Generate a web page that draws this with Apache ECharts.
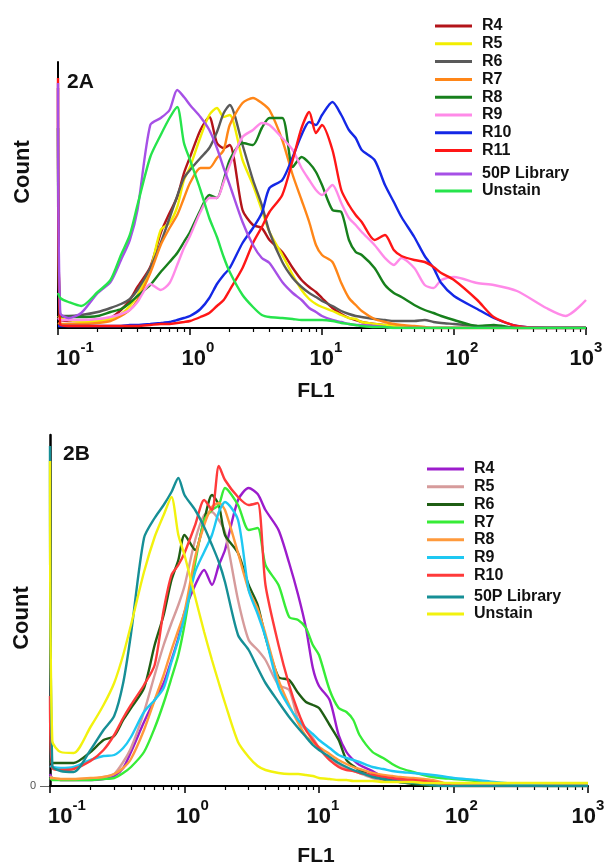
<!DOCTYPE html>
<html>
<head>
<meta charset="utf-8">
<title>FL1 histograms 2A / 2B</title>
<script src="https://cdn.jsdelivr.net/npm/echarts@6/dist/echarts.min.js"></script>
<style>
  html, body { margin: 0; padding: 0; background: #fff; }
  #chartA { position: absolute; left: 0; top: 0; width: 604px; height: 400px; }
  #chartB { position: absolute; left: 0; top: 400px; width: 604px; height: 466px; }
</style>
</head>
<body>
<div id="chartA"></div>
<div id="chartB"></div>
<script>
// FL1 channel positions shared by every histogram
const fl1 = [0.1, 0.104, 0.12, 0.15, 0.2, 0.25, 0.3, 0.35, 0.4, 0.5,
  0.6, 0.7, 0.8, 0.9, 1, 1.2, 1.4, 1.6, 1.8, 2,
  2.5, 3, 3.5, 4, 5, 6, 7, 8, 9, 10,
  12, 14, 16, 18, 20, 25, 30, 35, 40, 50,
  60, 70, 80, 100, 150, 200, 300, 500, 700, 1000];

const majorTicks = [0.1, 1, 10, 100, 1000];
const minorTicks = [0.2, 0.3, 0.4, 0.5, 0.6, 0.7, 0.8, 0.9,
  2, 3, 4, 5, 6, 7, 8, 9,
  20, 30, 40, 50, 60, 70, 80, 90,
  200, 300, 400, 500, 600, 700, 800, 900];

// ---- 2A counts ----
const namesA = ['R4', 'R5', 'R6', 'R7', 'R8', 'R9', 'R10', 'R11', '50P Library', 'Unstain'];
const a_r4 = [240, 8, 7, 7, 8, 10, 18, 28, 41, 61, 95, 115, 131, 155, 171, 198, 211, 185, 180, 183,
  118, 103, 100, 88, 76, 60, 48, 41, 36, 30, 20, 14, 10, 8, 6, 4, 3, 2, 1, 1,
  0, 0, 0, 0, 0, 0, 0, 0, 0, 0];
const a_r5 = [12, 10, 8, 6, 7, 9, 14, 22, 33, 58, 98, 105, 121, 148, 161, 191, 213, 220, 211, 213,
  168, 143, 118, 96, 73, 53, 38, 29, 24, 21, 17, 13, 10, 9, 6, 4, 3, 2, 1, 0,
  0, 0, 0, 0, 0, 0, 0, 0, 0, 0];
const a_r6 = [12, 12, 12, 13, 16, 20, 24, 29, 38, 60, 85, 110, 132, 150, 158, 170, 180, 196, 215, 223,
  183, 148, 123, 96, 66, 50, 41, 35, 31, 27, 22, 17, 14, 12, 11, 9, 8, 7, 7, 7,
  8, 6, 5, 4, 2, 1, 0, 0, 0, 0];
const a_r7 = [5, 4, 4, 4, 5, 7, 12, 18, 28, 55, 83, 100, 113, 130, 145, 160, 160, 170, 178, 203,
  225, 230, 225, 218, 188, 153, 128, 106, 83, 73, 66, 45, 30, 23, 17, 9, 6, 4, 3, 2,
  1, 0, 0, 0, 0, 0, 0, 0, 0, 0];
const a_r8 = [200, 12, 11, 11, 12, 16, 19, 25, 32, 43, 56, 66, 75, 86, 96, 118, 133, 130, 148, 168,
  185, 183, 200, 210, 210, 161, 171, 165, 156, 143, 118, 116, 88, 76, 73, 60, 43, 35, 31, 23,
  18, 15, 12, 8, 2, 3, 0, 0, 0, 0];
const a_r9 = [10, 8, 8, 8, 9, 11, 14, 18, 26, 44, 38, 45, 63, 80, 92, 116, 130, 130, 146, 163,
  191, 198, 205, 203, 190, 178, 160, 148, 138, 133, 143, 125, 110, 103, 96, 83, 70, 63, 70, 60,
  43, 40, 48, 51, 45, 43, 37, 20, 12, 28];
const a_r10 = [2, 2, 2, 2, 2, 2, 2, 3, 3, 4, 5, 6, 8, 10, 12, 19, 30, 44, 53, 60,
  85, 100, 115, 140, 148, 171, 193, 206, 203, 213, 226, 213, 198, 190, 178, 168, 143, 126, 111, 91,
  72, 60, 45, 32, 19, 10, 2, 0, 0, 0];
const a_r11 = [250, 3, 2, 2, 2, 2, 2, 2, 2, 3, 4, 4, 5, 6, 7, 11, 15, 22, 28, 38,
  60, 85, 101, 116, 133, 168, 200, 216, 195, 203, 178, 138, 123, 113, 106, 88, 93, 78, 72, 68,
  66, 61, 55, 48, 28, 11, 2, 0, 0, 0];
const a_lib = [245, 15, 10, 15, 35, 46, 68, 88, 118, 203, 210, 218, 238, 231, 223, 211, 198, 180, 160, 143,
  106, 83, 70, 65, 46, 35, 28, 20, 16, 12, 8, 6, 4, 3, 3, 2, 1, 0, 0, 0,
  0, 0, 0, 0, 0, 0, 0, 0, 0, 0];
const a_unstain = [35, 30, 26, 22, 36, 48, 73, 93, 123, 171, 193, 210, 221, 185, 168, 138, 110, 91, 71, 56,
  33, 21, 13, 11, 10, 9, 8, 8, 8, 8, 7, 5, 4, 3, 2, 1, 1, 0, 0, 0,
  0, 0, 0, 0, 0, 0, 0, 0, 0, 0];

// ---- 2B counts ----
const namesB = ['R4', 'R5', 'R6', 'R7', 'R8', 'R9', 'R10', '50P Library', 'Unstain'];
const b_r4 = [12, 8, 6, 6, 6, 7, 10, 18, 34, 64, 86, 103, 126, 148, 174, 201, 216, 201, 221, 236,
  286, 298, 292, 276, 256, 223, 191, 158, 118, 100, 86, 51, 34, 26, 21, 15, 9, 7, 6, 4,
  2, 1, 1, 0, 0, 0, 0, 0, 0, 0];
const b_r5 = [10, 8, 6, 6, 7, 9, 12, 24, 38, 74, 111, 141, 163, 181, 200, 246, 271, 274, 266, 254,
  186, 146, 136, 126, 101, 96, 66, 56, 48, 38, 26, 21, 18, 15, 13, 8, 6, 5, 4, 3,
  2, 1, 1, 0, 0, 0, 0, 0, 0, 0];
const b_r6 = [25, 23, 23, 23, 34, 46, 50, 66, 78, 98, 141, 171, 206, 226, 251, 236, 266, 291, 281, 251,
  233, 201, 181, 149, 109, 106, 93, 84, 81, 78, 61, 46, 26, 20, 16, 10, 7, 5, 4, 2,
  1, 0, 0, 0, 0, 0, 0, 0, 0, 0];
const b_r7 = [8, 6, 6, 6, 6, 7, 8, 13, 19, 34, 58, 83, 108, 131, 161, 223, 266, 276, 281, 298,
  281, 256, 258, 221, 201, 169, 166, 158, 141, 131, 96, 78, 74, 66, 51, 34, 28, 22, 18, 14,
  11, 9, 8, 7, 5, 3, 1, 0, 0, 0];
const b_r8 = [8, 8, 7, 7, 8, 9, 12, 18, 27, 56, 86, 111, 136, 156, 174, 229, 261, 279, 283, 276,
  233, 196, 177, 152, 106, 81, 63, 50, 44, 39, 32, 26, 22, 19, 17, 13, 11, 10, 9, 8,
  7, 6, 4, 1, 0, 0, 0, 0, 0, 0];
const b_r9 = [20, 19, 18, 19, 26, 30, 31, 38, 49, 74, 86, 98, 124, 146, 169, 214, 234, 251, 274, 284,
  266, 196, 172, 149, 99, 79, 66, 58, 52, 46, 38, 31, 28, 26, 24, 19, 17, 15, 14, 13,
  12, 11, 10, 8, 6, 4, 2, 0, 0, 0];
const b_r10 = [90, 18, 16, 17, 25, 36, 51, 68, 81, 101, 121, 176, 211, 221, 233, 261, 286, 276, 320, 306,
  289, 281, 283, 201, 141, 101, 74, 56, 46, 38, 26, 19, 16, 15, 13, 11, 9, 8, 7, 6,
  5, 4, 3, 0, 0, 0, 0, 0, 0, 0];
const b_lib = [340, 20, 15, 14, 36, 56, 70, 103, 152, 248, 268, 281, 294, 308, 291, 276, 259, 241, 224, 204,
  151, 136, 118, 103, 84, 69, 58, 49, 41, 36, 29, 23, 19, 16, 14, 9, 7, 5, 4, 3,
  2, 1, 0, 0, 0, 0, 0, 0, 0, 0];
const b_unstain = [325, 45, 34, 33, 59, 81, 103, 131, 161, 214, 249, 271, 289, 251, 231, 189, 154, 126, 103, 83,
  44, 29, 20, 16, 13, 12, 12, 11, 10, 8, 7, 6, 6, 5, 5, 5, 4, 4, 4, 4,
  3, 3, 3, 3, 3, 3, 3, 3, 3, 3];

const colorsA = ['#b3141a', '#f2ee00', '#5a5a5a', '#ff8618', '#17801c', '#ff8ae8', '#1428e6', '#ff1616', '#a650e6', '#26e44c'];
const colorsB = ['#9c1ccc', '#d69b9b', '#1f5e14', '#37ec37', '#ff9a3c', '#1ec8f2', '#ff3a3a', '#168f96', '#f2f20e'];

const FONT = '"Liberation Sans", Arial, sans-serif';
// the decade labels in the figure sit a little right of their ticks (spacer width per exponent)
const labelSpacer = { '-1': 34, '0': 16, '1': 8, '2': 16, '3': 0 };

function pairs(vals) {
  return fl1.map((x, i) => [x, vals[i]]);
}

function decadeLabel(v) {
  const e = Math.round(Math.log10(v));
  const pad = labelSpacer[e] || 0;
  return (pad ? '{p' + pad + '| }' : '') + '{b|10}{s|' + e + '}';
}

function buildOption(p) {
  const n = p.names.length;
  const legendText = { fontSize: 16, fontWeight: 'bold', fontFamily: FONT, color: '#111', padding: [0, 0, 0, 5] };
  const legendBase = { orient: 'vertical', left: p.legendLeft, padding: 0, icon: 'rect', itemWidth: 37, itemHeight: 3,
    textStyle: legendText, selectedMode: false };
  const rich = {
    b: { fontSize: 22, fontWeight: 'bold', fontFamily: FONT, color: '#111', lineHeight: 30, verticalAlign: 'bottom' },
    s: { fontSize: 15, fontWeight: 'bold', fontFamily: FONT, color: '#111', lineHeight: 16, verticalAlign: 'top' }
  };
  Object.keys(labelSpacer).forEach(k => {
    const w = labelSpacer[k];
    if (w) rich['p' + w] = { width: w, fontSize: 10 };
  });
  return {
    animation: false,
    color: p.colors,
    grid: { left: p.grid.left, right: p.grid.right, top: p.grid.top, bottom: p.grid.bottom, outerBoundsMode: 'none' },
    legend: [
      Object.assign({}, legendBase, { data: p.names.slice(0, n - 2), top: p.legendTop[0], itemGap: p.legendGap }),
      Object.assign({}, legendBase, { data: p.names.slice(n - 2), top: p.legendTop[1], itemGap: 0.9 })
    ],
    xAxis: [
      {
        type: 'log', min: 0.1, max: 1000, logBase: 10,
        axisLine: { lineStyle: { color: '#000', width: 2 } },
        axisTick: { length: 7, lineStyle: { color: '#000', width: 1.5 } },
        splitLine: { show: false },
        axisLabel: {
          margin: 12, showMinLabel: true, showMaxLabel: true,
          formatter: decadeLabel,
          rich: rich
        }
      },
      {
        // minor ticks 2..9 of each decade
        type: 'log', min: 0.1, max: 1000, logBase: 10, position: 'bottom',
        axisLine: { show: false },
        axisLabel: { show: false },
        splitLine: { show: false },
        axisTick: { show: true, customValues: minorTicks, length: 4, lineStyle: { color: '#000', width: 1.2 } }
      }
    ],
    yAxis: {
      type: 'value', min: 0, max: p.yMax,
      axisLine: { show: true, lineStyle: { color: '#000', width: p.yLineWidth } },
      splitLine: { show: false },
      axisTick: p.zeroLabel ? { show: true, customValues: [0], length: 10, lineStyle: { color: '#666', width: 1 } } : { show: false },
      axisLabel: p.zeroLabel ? { show: true, customValues: [0], margin: 14, fontSize: 11, color: '#555', fontFamily: FONT } : { show: false }
    },
    graphic: [
      { type: 'text', left: p.tag.x, top: p.tag.y, style: { text: p.tag.text, font: 'bold 21px ' + FONT, fill: '#111' } },
      { type: 'text', x: p.count.x, y: p.count.y, rotation: Math.PI / 2,
        style: { text: 'Count', font: 'bold 22px ' + FONT, fill: '#111', align: 'center', verticalAlign: 'middle' } },
      { type: 'text', x: p.fl1.x, y: p.fl1.y,
        style: { text: 'FL1', font: 'bold 21px ' + FONT, fill: '#111', align: 'center', verticalAlign: 'middle' } }
    ],
    series: p.series.map((vals, i) => ({
      name: p.names[i], type: 'line', xAxisIndex: 0, showSymbol: false, symbol: 'none',
      smooth: 0.25, lineStyle: { width: 2.4 }, data: pairs(vals)
    }))
  };
}

const chartA = echarts.init(document.getElementById('chartA'));
chartA.setOption(buildOption({
  names: namesA, colors: colorsA,
  series: [a_r4, a_r5, a_r6, a_r7, a_r8, a_r9, a_r10, a_r11, a_lib, a_unstain],
  grid: { left: 58, right: 18, top: 62, bottom: 72 }, yMax: 266, yLineWidth: 2,
  legendLeft: 435, legendTop: [18, 166], legendGap: 1.8,
  tag: { text: '2A', x: 67, y: 72 }, count: { x: 23, y: 172 }, fl1: { x: 316, y: 391 },
  zeroLabel: false
}));

const chartB = echarts.init(document.getElementById('chartB'));
chartB.setOption(buildOption({
  names: namesB, colors: colorsB,
  series: [b_r4, b_r5, b_r6, b_r7, b_r8, b_r9, b_r10, b_lib, b_unstain],
  grid: { left: 50, right: 16, top: 35, bottom: 80 }, yMax: 351, yLineWidth: 2.5,
  legendLeft: 427, legendTop: [61, 189], legendGap: 1.7,
  tag: { text: '2B', x: 63, y: 44 }, count: { x: 22, y: 218 }, fl1: { x: 316, y: 456 },
  zeroLabel: true
}));
</script>
</body>
</html>
